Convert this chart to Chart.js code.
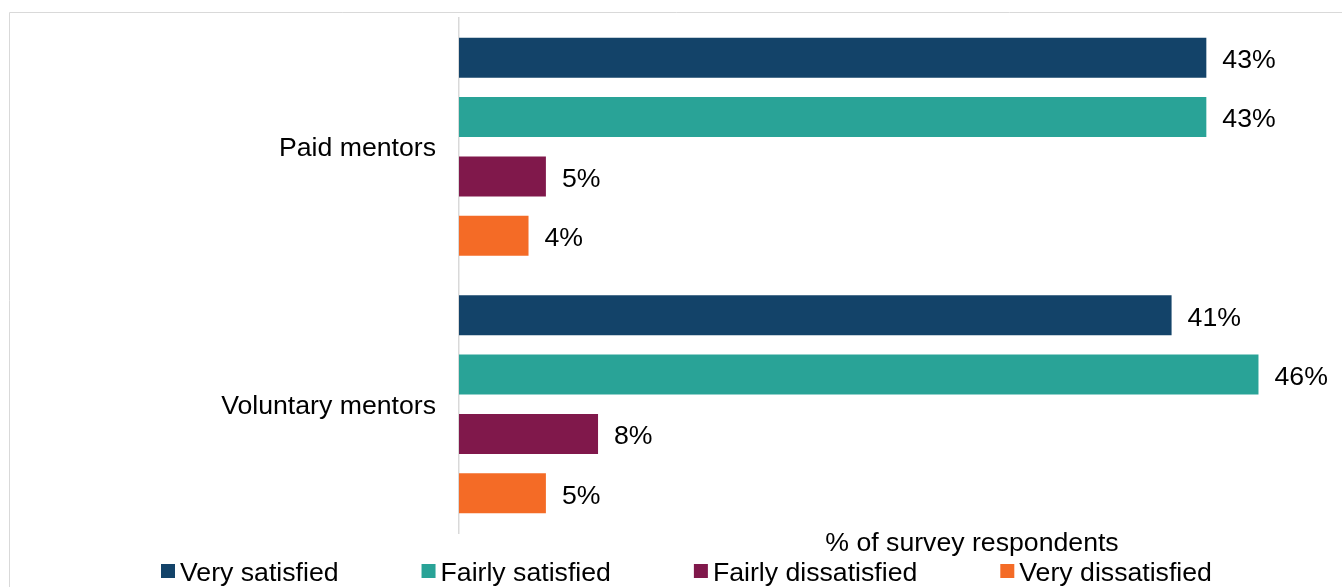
<!DOCTYPE html>
<html>
<head>
<meta charset="utf-8">
<script src="https://cdn.jsdelivr.net/npm/chart.js@4/dist/chart.umd.min.js"></script>
<style>
  html, body { margin: 0; padding: 0; background: #ffffff; }
  #wrap { width: 1342px; height: 587px; position: relative; }
</style>
</head>
<body>
<div id="wrap"><canvas id="chart" width="1342" height="587"></canvas></div>
<script>
// Mentor satisfaction by mentor type (% of survey respondents)
const categories = ['Paid mentors', 'Voluntary mentors'];
const seriesNames = ['Very satisfied', 'Fairly satisfied', 'Fairly dissatisfied', 'Very dissatisfied'];
const verySatisfied = [43, 41];
const fairlySatisfied = [43, 46];
const fairlyDissatisfied = [5, 8];
const veryDissatisfied = [4, 5];
const axisTitle = '% of survey respondents';

const seriesValues = [verySatisfied, fairlySatisfied, fairlyDissatisfied, veryDissatisfied];
const colours = ['#134369', '#29a397', '#80184b', '#f46b26'];
const FONT_FAMILY = '"Liberation Sans", Arial, sans-serif';
const FONT_SIZE = 26.67;
const fontCss = FONT_SIZE + 'px ' + FONT_FAMILY;

// Thin grey frame around the chart
const framePlugin = {
  id: 'frame',
  beforeDraw(chart) {
    const ctx = chart.ctx;
    ctx.save();
    ctx.strokeStyle = '#d9d9d9';
    ctx.lineWidth = 1;
    ctx.beginPath();
    ctx.moveTo(9.5, chart.height + 5);
    ctx.lineTo(9.5, 12.5);
    ctx.lineTo(chart.width + 5, 12.5);
    ctx.stroke();
    ctx.restore();
  }
};

// Percentage labels at the end of each bar
const valueLabels = {
  id: 'valueLabels',
  afterDatasetsDraw(chart) {
    const ctx = chart.ctx;
    ctx.save();
    ctx.font = fontCss;
    ctx.fillStyle = '#000000';
    ctx.textAlign = 'left';
    ctx.textBaseline = 'middle';
    chart.data.datasets.forEach((ds, i) => {
      chart.getDatasetMeta(i).data.forEach((bar, j) => {
        ctx.fillText(ds.data[j] + '%', bar.x + 16, bar.y + 3);
      });
    });
    ctx.restore();
  }
};

// Axis title and legend row below the plot
const footer = {
  id: 'footer',
  afterDraw(chart) {
    const ctx = chart.ctx;
    ctx.save();
    ctx.font = fontCss;
    ctx.fillStyle = '#000000';
    ctx.textBaseline = 'middle';

    ctx.textAlign = 'center';
    ctx.fillText(axisTitle, 972, 544);

    const box = 14, boxGap = 5, itemGap = 83;
    const widths = seriesNames.map(n => ctx.measureText(n).width);
    const total = widths.reduce((a, w) => a + box + boxGap + w, 0) + itemGap * (seriesNames.length - 1);
    let x = Math.round(686 - total / 2);
    const y = 571;
    ctx.textAlign = 'left';
    seriesNames.forEach((name, i) => {
      ctx.fillStyle = colours[i];
      ctx.fillRect(x, y - 7, box, box);
      ctx.fillStyle = '#000000';
      ctx.fillText(name, x + box + boxGap, y + 3);
      x += box + boxGap + widths[i] + itemGap;
    });
    ctx.restore();
  }
};

new Chart(document.getElementById('chart'), {
  type: 'bar',
  data: {
    labels: categories,
    datasets: seriesNames.map((name, i) => ({
      label: name,
      data: seriesValues[i],
      backgroundColor: colours[i],
      borderWidth: 0,
      barPercentage: 0.675,
      categoryPercentage: 0.921
    }))
  },
  options: {
    indexAxis: 'y',
    responsive: false,
    devicePixelRatio: 1,
    animation: false,
    layout: { padding: { top: 18, right: 14, bottom: 54, left: 0 } },
    plugins: {
      legend: { display: false },
      tooltip: { enabled: false }
    },
    scales: {
      x: {
        display: false,
        min: 0,
        max: 50
      },
      y: {
        grid: { display: false, drawTicks: false },
        border: { display: true, color: '#d9d9d9', width: 1.5 },
        ticks: {
          color: '#000000',
          padding: 23,
          labelOffset: 2,
          font: { family: FONT_FAMILY, size: FONT_SIZE }
        },
        afterFit(scale) {
          scale.width = 459;
          scale.paddingTop = 0;
          scale.paddingBottom = 0;
        }
      }
    }
  },
  plugins: [framePlugin, valueLabels, footer]
});
</script>
</body>
</html>
